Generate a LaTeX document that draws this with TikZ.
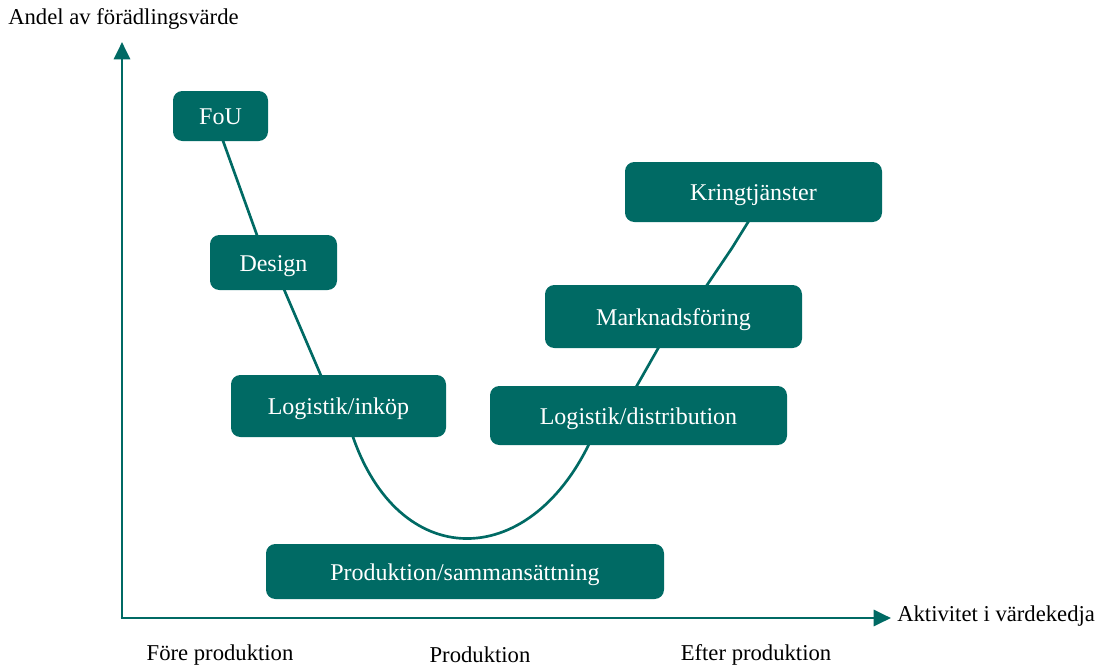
\documentclass[tikz,border=0pt]{standalone}
\usepackage{fontspec}
\setmainfont{Liberation Serif}
\usetikzlibrary{arrows.meta}
\definecolor{teal}{RGB}{0,106,100}
\tikzset{
  stage/.style={draw=none, fill=teal, rounded corners=7pt, text=white, font=\fontsize{18}{21}\selectfont, inner sep=0pt, text height=15pt, text depth=1.6pt},
  axis/.style={teal, line width=2.2pt, -{Triangle[length=13pt,width=12pt]}},
  curve/.style={teal, line width=2pt},
  lbl/.style={font=\fontsize{17}{20}\selectfont, inner sep=0pt}
}
\begin{document}
\begin{tikzpicture}[x=0.75pt, y=-0.75pt]
  \useasboundingbox (0,0) rectangle (1099,668);
  % Axes
  \coordinate (origin) at (122,618);
  \coordinate (ytip) at (122,42);
  \coordinate (xtip) at (891,618);
  \draw[axis] (origin) -- (ytip);
  \draw[axis] ([xshift=-1pt]origin) -- (xtip);
  \node[lbl, anchor=west] (ylabel) at (8,19) {Andel av förädlingsvärde};
  \node[lbl, anchor=west] (xlabel) at (897,616) {Aktivitet i värdekedja};
  \node[lbl] (before) at (220,655) {Före produktion};
  \node[lbl] (during) at (480,655) {Produktion};
  \node[lbl] (after) at (756,655) {Efter produktion};
  % Curve
  \coordinate (fouB) at (222,138);
  \coordinate (designT) at (258,238);
  \coordinate (designB) at (283,287);
  \coordinate (inkopT) at (322,378);
  \coordinate (inkopB) at (352,434);
  \coordinate (distB) at (590,442);
  \coordinate (distT) at (635,389);
  \coordinate (markB) at (660,345);
  \coordinate (markT) at (705,288);
  \coordinate (kringB) at (750,219);
  \draw[curve] (fouB) -- (designT);
  \draw[curve] (designB) -- (inkopT);
  \draw[curve] (inkopB) .. controls (398,572) and (528,572) .. (distB);
  \draw[curve] (distT) -- (markB);
  \draw[curve] (markT) -- (732,248) -- (kringB);
  % Stages
  \node[stage, minimum width=71.25pt, minimum height=37.5pt] (fou) at (220.5,116) {FoU};
  \node[stage, minimum width=95.25pt, minimum height=41.25pt] (design) at (273.5,262.5) {Design};
  \node[stage, minimum width=161.25pt, minimum height=46.5pt] (inkop) at (338.5,406) {Logistik/inköp};
  \node[stage, minimum width=298.5pt, minimum height=41.25pt] (prod) at (465,571.5) {Produktion/sammansättning};
  \node[stage, minimum width=222.75pt, minimum height=44.25pt] (dist) at (638.5,415.5) {Logistik/distribution};
  \node[stage, minimum width=192.75pt, minimum height=47.25pt] (mark) at (673.5,316.5) {Marknadsföring};
  \node[stage, minimum width=192.75pt, minimum height=45pt] (kring) at (753.5,192) {Kringtjänster};
\end{tikzpicture}
\end{document}
